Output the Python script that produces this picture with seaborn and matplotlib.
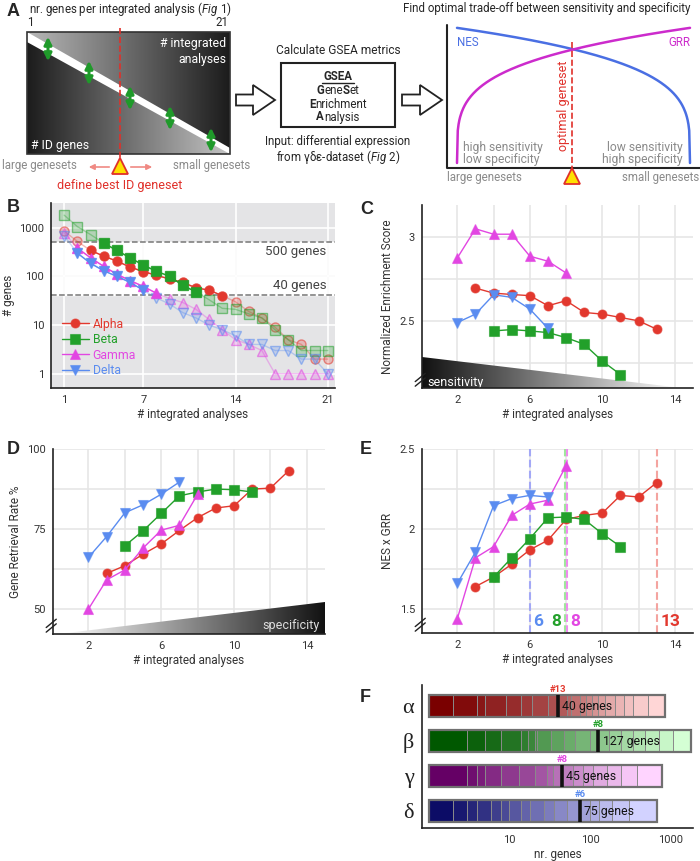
import numpy as np
import pandas as pd
import matplotlib
matplotlib.use('Agg')
import matplotlib.pyplot as plt
import seaborn as sns
from matplotlib.patches import Polygon, Rectangle, FancyArrow
from matplotlib.colors import LinearSegmentedColormap, to_rgba
from matplotlib.ticker import NullLocator

# ---------------- data ----------------
sets = ['Alpha', 'Beta', 'Gamma', 'Delta']
greek = ['α', 'β', 'γ', 'δ']

n_analyses = list(range(1, 22))
genes_alpha = [850, 520, 340, 260, 205, 155, 125, 105, 88, 75, 58, 52, 40, 30, 19, 14, 9, 5, 4, 2, 2]
genes_beta = [1800, 1050, 720, 480, 340, 240, 170, 127, 100, 65, 48, 33, 22, 21, 17, 14, 8, 5, 3, 3, 3]
genes_gamma = [780, 380, 240, 160, 110, 82, 62, 45, 35, 29, 21, 13, 8, 5, 4, 3, 1, 1, 1, 1, 1]
genes_delta = [680, 300, 185, 130, 100, 75, 52, 36, 27, 18, 14, 10, 8, 6, 4, 4, 3, 3, 2, 2, 1]

x_alpha = list(range(3, 14))
x_beta = list(range(4, 12))
x_gamma = list(range(2, 9))
x_delta = list(range(2, 8))

nes_alpha = [2.695, 2.665, 2.657, 2.65, 2.59, 2.62, 2.55, 2.54, 2.52, 2.50, 2.45]
nes_beta = [2.44, 2.448, 2.44, 2.43, 2.40, 2.36, 2.26, 2.18]
nes_gamma = [2.875, 3.048, 3.016, 3.016, 2.885, 2.855, 2.785]
nes_delta = [2.49, 2.54, 2.655, 2.64, 2.57, 2.455]

grr_alpha = [61.2, 63.6, 67.2, 70.4, 74.6, 78.6, 81.6, 82.3, 87.5, 87.8, 93.2]
grr_beta = [69.8, 74.5, 79.9, 85.4, 86.6, 87.5, 87.3, 86.6]
grr_gamma = [50.1, 59.2, 62.3, 69.1, 74.7, 76.2, 85.9]
grr_delta = [66.2, 72.7, 80.1, 82.6, 85.9, 89.7]

prod_alpha = [1.64, 1.70, 1.78, 1.87, 1.93, 2.06, 2.085, 2.10, 2.21, 2.20, 2.29]
prod_beta = [1.70, 1.82, 1.94, 2.07, 2.075, 2.06, 1.97, 1.89]
prod_gamma = [1.44, 1.82, 1.89, 2.085, 2.156, 2.18, 2.396]
prod_delta = [1.66, 1.856, 2.146, 2.19, 2.21, 2.20]

best_n = [13, 8, 8, 6]
best_genes = [40, 127, 45, 75]

genes = dict(zip(sets, [genes_alpha, genes_beta, genes_gamma, genes_delta]))
xs = dict(zip(sets, [x_alpha, x_beta, x_gamma, x_delta]))
nes = dict(zip(sets, [nes_alpha, nes_beta, nes_gamma, nes_delta]))
grr = dict(zip(sets, [grr_alpha, grr_beta, grr_gamma, grr_delta]))
prod = dict(zip(sets, [prod_alpha, prod_beta, prod_gamma, prod_delta]))

colors = {'Alpha': '#e2382e', 'Beta': '#22a02a', 'Gamma': '#e246e2', 'Delta': '#5a8cf0'}
markers = {'Alpha': 'o', 'Beta': 's', 'Gamma': '^', 'Delta': 'v'}
bar_cols = {'Alpha': ('#7a0000', '#ffd6d6'), 'Beta': ('#005800', '#d4ffd4'),
            'Gamma': ('#650065', '#ffd4ff'), 'Delta': ('#0c0c66', '#d2d2ff')}

# ---------------- style ----------------
sns.set_theme(style='white')
plt.rcParams['font.family'] = ['Roboto', 'DejaVu Sans']
plt.rcParams.update({'mathtext.fontset': 'custom', 'mathtext.rm': 'Roboto',
                     'mathtext.it': 'Roboto:italic', 'mathtext.bf': 'Roboto:bold',
                     'xtick.labelsize': 8, 'ytick.labelsize': 8,
                     'axes.labelsize': 8.5, 'xtick.color': '#333', 'ytick.color': '#333',
                     'axes.labelcolor': '#333'})

W, H = 700, 861
fig = plt.figure(figsize=(7, 8.61), dpi=100)
renderer = fig.canvas.get_renderer()
FS = 8.3  # schematic text size


def box(l, t, r, b):
    return [l / W, 1 - b / H, (r - l) / W, (b - t) / H]


def letter(x, y, s):
    fig.text(x / W, 1 - y / H, s, fontsize=13, fontweight='bold', family='Liberation Sans',
             va='center', ha='left')


def style_ax(ax):
    for s in ['top', 'right']:
        ax.spines[s].set_visible(False)
    for s in ['left', 'bottom']:
        ax.spines[s].set_color('#222')
        ax.spines[s].set_linewidth(1.2)
    ax.tick_params(axis='both', length=3, width=1, color='#222', pad=2)


def break_mark(ax):
    for d in (0.0, 0.025):
        ax.plot([-0.025, 0.012], [0.01 + d, 0.055 + d], transform=ax.transAxes,
                color='#222', lw=1, clip_on=False, zorder=5)


def mlabel(series):
    return dict(color=colors[series], marker=markers[series], markersize=6.5,
                markeredgecolor=to_rgba(colors[series], 0.6), markeredgewidth=0.8, lw=1)


def pieces(ax, xc, y, parts, fs):
    # draw text pieces (text, weight) side by side, centred on xc (axes units are pixels)
    arts = [ax.text(0, y, p, fontsize=fs, fontweight=w, ha='left', va='center') for p, w in parts]
    widths = [a.get_window_extent(renderer).width for a in arts]
    x = xc - sum(widths) / 2
    for a, w in zip(arts, widths):
        a.set_x(x)
        x += w


# ---------------- panel A (schematic) ----------------
axA = fig.add_axes([0, 1 - 195 / H, 1, 195 / H])
axA.axis('off')
axA.set_xlim(0, 700)
axA.set_ylim(195, 0)
grad = np.linspace(0, 1, 256).reshape(1, -1)
up = Polygon([(27, 32), (230, 32), (230, 148)], closed=True, transform=axA.transData)
lo = Polygon([(27, 42), (27, 154), (230, 154)], closed=True, transform=axA.transData)
im1 = axA.imshow(grad, extent=(27, 230, 154, 32), aspect='auto',
                 cmap=LinearSegmentedColormap.from_list('u', ['#b8b8b8', '#1c1c1c']))
im1.set_clip_path(up)
im2 = axA.imshow(grad, extent=(27, 230, 154, 32), aspect='auto',
                 cmap=LinearSegmentedColormap.from_list('l', ['#1c1c1c', '#c4c4c4']))
im2.set_clip_path(lo)
axA.set_xlim(0, 700)
axA.set_ylim(195, 0)
axA.add_patch(Rectangle((27, 32), 203, 122, fill=False, ec='#333', lw=1.2))
for gx, gy in [(48, 49), (89, 73), (130, 98), (170, 118), (211, 140)]:
    axA.annotate('', xy=(gx, gy - 15), xytext=(gx, gy + 15),
                 arrowprops=dict(arrowstyle='<|-|>', color='#1f9a2a', lw=2.2, mutation_scale=11))
axA.plot([120, 120], [28, 160], ls='--', color='#e0302a', lw=1.2)
axA.text(29, 8.5, r'nr. genes per integrated analysis ($\it{Fig\ 1}$)', fontsize=FS, va='center', ha='left')
axA.text(30, 23, '1', fontsize=FS, ha='center', va='center')
axA.text(222, 23, '21', fontsize=FS, ha='center', va='center')
axA.text(226, 43, '# integrated', color='white', fontsize=FS + 0.5, ha='right', va='center')
axA.text(226, 59, 'analyses', color='white', fontsize=FS + 0.5, ha='right', va='center')
axA.text(31, 146, '# ID genes', color='white', fontsize=FS + 0.5, ha='left', va='center')
axA.text(39, 165, 'large genesets', color='#8a8a8a', fontsize=FS, ha='center', va='center')
axA.text(212, 165, 'small genesets', color='#8a8a8a', fontsize=FS, ha='center', va='center')
axA.annotate('', xy=(86, 167), xytext=(112, 167),
             arrowprops=dict(arrowstyle='-|>', color='#f08a84', lw=1.2, mutation_scale=8))
axA.annotate('', xy=(155, 167), xytext=(128, 167),
             arrowprops=dict(arrowstyle='-|>', color='#f08a84', lw=1.2, mutation_scale=8))
axA.plot(120, 166, marker='^', ms=11, mfc='#ffe000', mec='#e0302a', mew=1.3)
axA.text(120, 186, 'define best ID geneset', color='#e0302a', fontsize=9, ha='center', va='center')

axA.add_patch(FancyArrow(236, 100, 39, 0, width=11, head_width=30, head_length=22,
                         length_includes_head=True, fc='white', ec='#222', lw=1.3))
axA.add_patch(FancyArrow(402, 100, 40, 0, width=11, head_width=30, head_length=22,
                         length_includes_head=True, fc='white', ec='#222', lw=1.3))
axA.text(338, 50, 'Calculate GSEA metrics', fontsize=FS + 0.3, ha='center', va='center')
axA.add_patch(Rectangle((281, 63), 114, 64, fill=False, ec='#222', lw=1.5))
axA.text(338, 76, 'GSEA', fontsize=FS, fontweight='bold', ha='center', va='center')
axA.plot([322, 354], [83, 83], color='#222', lw=1)
pieces(axA, 338, 91, [('G', 'bold'), ('ene', 'normal'), ('S', 'bold'), ('et', 'normal')], FS)
pieces(axA, 338, 104, [('E', 'bold'), ('nrichment', 'normal')], FS)
pieces(axA, 338, 117, [('A', 'bold'), ('nalysis', 'normal')], FS)
axA.text(338, 141, 'Input: differential expression', fontsize=FS, ha='center', va='center')
axA.text(338, 157, r'from γδε-dataset ($\it{Fig\ 2}$)', fontsize=FS, ha='center', va='center')

# trade-off sketch
axA.text(547, 8.5, 'Find optimal trade-off between sensitivity and specificity', fontsize=FS,
         ha='center', va='center')
axA.plot([447, 447, 700], [25, 168, 168], color='#222', lw=1.5)
t = np.linspace(0, 1, 300)
sx = 457 + 233 * t
axA.plot(sx, 168 - 143 * (0.035 + 0.945 * (1 - t) ** 0.25), color='#4a6fe3', lw=1.8)
axA.plot(sx, 168 - 143 * (0.035 + 0.945 * t ** 0.25), color='#cc2bcc', lw=1.8)
axA.plot([572, 572], [42, 168], ls='--', color='#e0302a', lw=1.2)
axA.text(563, 106, 'optimal geneset', rotation=90, color='#e0302a', fontsize=9,
         ha='center', va='center')
axA.text(457, 42, 'NES', color='#4a6fe3', fontsize=FS, ha='left', va='center')
axA.text(690, 42, 'GRR', color='#cc2bcc', fontsize=FS, ha='right', va='center')
axA.text(463, 147, 'high sensitivity', color='#8a8a8a', fontsize=FS + 0.4, ha='left', va='center')
axA.text(463, 159, 'low specificity', color='#8a8a8a', fontsize=FS + 0.4, ha='left', va='center')
axA.text(683, 147, 'low sensitivity', color='#8a8a8a', fontsize=FS + 0.4, ha='right', va='center')
axA.text(683, 159, 'high specificity', color='#8a8a8a', fontsize=FS + 0.4, ha='right', va='center')
axA.text(447, 178, 'large genesets', color='#8a8a8a', fontsize=FS, ha='left', va='center')
axA.text(699, 178, 'small genesets', color='#8a8a8a', fontsize=FS, ha='right', va='center')
axA.plot(572, 176, marker='^', ms=11, mfc='#ffe000', mec='#e0302a', mew=1.3, clip_on=False)
letter(7, 11, 'A')

# ---------------- panel B ----------------
axB = fig.add_axes(box(51, 203, 335, 388))
style_ax(axB)
axB.set_facecolor('#e4e4e6')
axB.set_yscale('log')
axB.axhspan(42, 500, color='white', zorder=0.2)
axB.grid(True, color='white', lw=1.2, which='major')
axB.set_axisbelow(True)
axB.vlines([1, 7, 14, 21], 42, 500, color='#e6e6e6', lw=1.2, zorder=0.3)
axB.hlines([100], 0, 21.55, color='#e6e6e6', lw=1.2, zorder=0.3)
axB.axhline(500, ls='--', color='#777', lw=1.1, zorder=1)
axB.axhline(42, ls='--', color='#777', lw=1.1, zorder=1)
for s in sets:
    v = np.array(genes[s], dtype=float)
    c = colors[s]
    axB.plot(n_analyses, v, color=to_rgba(c, 0.35), lw=1, marker=markers[s], ms=6.5,
             mfc=to_rgba(c, 0.25), mec=to_rgba(c, 0.55), mew=1, zorder=2)
    keep = (v >= 40) & (v <= 500)
    d = pd.DataFrame({'n': np.array(n_analyses)[keep], 'genes': v[keep]})
    sns.lineplot(data=d, x='n', y='genes', ax=axB, label=s, zorder=3, **mlabel(s))
leg = axB.legend(loc='lower left', bbox_to_anchor=(0.0, 0.0), frameon=False, fontsize=8.8,
                 handlelength=2.2, labelspacing=0.2, borderaxespad=0.5, handletextpad=0.3)
for txt, s in zip(leg.get_texts(), sets):
    txt.set_color(colors[s])
axB.text(20.9, 320, '500 genes', ha='right', va='center', fontsize=9.5, color='#444')
axB.text(20.9, 66, '40 genes', ha='right', va='center', fontsize=9.5, color='#444')
axB.set_xlim(0, 21.55)
axB.set_ylim(0.51, 3200)
axB.set_xticks([1, 7, 14, 21])
axB.set_yticks([1, 10, 100, 1000])
axB.set_yticklabels(['1', '10', '100', '1000'])
axB.yaxis.set_minor_locator(NullLocator())
axB.set_xlabel('# integrated analyses', labelpad=2)
axB.set_ylabel('# genes', labelpad=3)
letter(7, 208, 'B')


# ---------------- panels C, D, E ----------------
def line_panel(rect, values, ylim, yticks, yminor):
    ax = fig.add_axes(rect)
    style_ax(ax)
    for s in sets:
        d = pd.DataFrame({'n': xs[s], 'v': values[s]})
        sns.lineplot(data=d, x='n', y='v', ax=ax, zorder=3, **mlabel(s))
    ax.set_xticks([2, 6, 10, 14])
    ax.set_xticks(range(2, 15, 2), minor=True)
    ax.set_yticks(yticks)
    ax.set_yticks(yminor, minor=True)
    ax.grid(True, which='both', color='#e6e6e6', lw=1.2)
    ax.tick_params(which='minor', length=0)
    ax.set_axisbelow(True)
    ax.set_xlim(0.05, 15)
    ax.set_ylim(*ylim)
    ax.set_xlabel('# integrated analyses', labelpad=2)
    break_mark(ax)
    return ax


axC = line_panel(box(422, 205, 693, 388), nes, (2.10, 3.19), [2.5, 3.0], [2.25, 2.75])
axC.set_yticklabels(['2.5', '3'])
axC.set_ylabel('Normalized Enrichment Score', labelpad=4)
triC = Polygon([(0.05, 2.285), (0.05, 2.10), (14.4, 2.10)], closed=True, transform=axC.transData)
imC = axC.imshow(grad, extent=(0.05, 14.4, 2.10, 2.285), aspect='auto', zorder=1,
                 cmap=LinearSegmentedColormap.from_list('c', ['#111111', '#ffffff']))
imC.set_clip_path(triC)
axC.text(0.35, 2.135, 'sensitivity', color='white', fontsize=9, ha='left', va='center', zorder=2)
axC.set_xlim(0.05, 15)
axC.set_ylim(2.10, 3.19)
letter(360, 210, 'C')

axD = line_panel(box(53, 449, 325, 634), grr, (42.3, 100), [50, 75, 100], [62.5, 87.5])
axD.set_ylabel('Gene Retrieval Rate %', labelpad=4)
triD = Polygon([(0.3, 42.3), (15, 42.3), (15, 52.3)], closed=True, transform=axD.transData)
imD = axD.imshow(grad, extent=(0.3, 15, 42.3, 52.3), aspect='auto', zorder=1,
                 cmap=LinearSegmentedColormap.from_list('d', ['#ffffff', '#111111']))
imD.set_clip_path(triD)
axD.text(14.7, 44.8, 'specificity', color='#dddddd', fontsize=9, ha='right', va='center', zorder=2)
axD.set_xlim(0.05, 15)
axD.set_ylim(42.3, 100)
letter(7, 449, 'D')

axE = line_panel(box(422, 449, 693, 633), prod, (1.35, 2.5), [1.5, 2.0, 2.5], [1.75, 2.25])
axE.set_yticklabels(['1.5', '2', '2.5'])
axE.set_ylabel('NES x GRR', labelpad=4)
for bx, bc in [(6, '#a3a8f6'), (7.96, '#9ee89a'), (8.04, '#ef8cef'), (13, '#f4a4a0')]:
    axE.axvline(bx, ls='--', color=bc, lw=1.5, zorder=2)
axE.text(6.2, 1.42, '6', color=colors['Delta'], fontsize=12.5, fontweight='bold', ha='left', va='center')
axE.text(7.75, 1.42, '8', color=colors['Beta'], fontsize=12.5, fontweight='bold', ha='right', va='center')
axE.text(8.25, 1.42, '8', color=colors['Gamma'], fontsize=12.5, fontweight='bold', ha='left', va='center')
axE.text(13.2, 1.42, '13', color=colors['Alpha'], fontsize=12.5, fontweight='bold', ha='left', va='center')
letter(360, 449, 'E')

# ---------------- panel F ----------------
axF = fig.add_axes(box(422, 685, 693, 828))
style_ax(axF)
axF.set_xscale('log')
for i, s in enumerate(sets):
    edges = [1] + sorted(set(genes[s]) - {1})
    cmap = LinearSegmentedColormap.from_list(s, bar_cols[s])
    nseg = len(edges) - 1
    for k in range(nseg):
        axF.barh(i, edges[k + 1] - edges[k], left=edges[k], height=0.62,
                 color=cmap(k / max(nseg - 1, 1)), edgecolor='#8a8a8a', lw=0.7)
    axF.barh(i, edges[-1] - 1, left=1, height=0.62, fill=False, edgecolor='#707070', lw=1.6)
    axF.vlines(best_genes[i], i - 0.31, i + 0.31, color='#111', lw=2.6, zorder=4)
    axF.text(best_genes[i], i - 0.34, f'#{best_n[i]}', color=colors[s], fontsize=6.8,
             fontweight='bold', ha='center', va='bottom')
    axF.text(best_genes[i] * 1.13, i + 0.02, f'{best_genes[i]} genes', color='#111',
             fontsize=8.8, ha='left', va='center', zorder=5)
axF.set_yticks(range(4))
axF.set_yticklabels(greek, family=['Liberation Serif', 'DejaVu Serif'], fontsize=16, color='#222')
axF.tick_params(axis='y', length=0, pad=6)
axF.set_xticks([10, 100, 1000])
axF.set_xticklabels(['10', '100', '1000'])
axF.xaxis.set_minor_locator(NullLocator())
axF.set_xlim(0.83, 1880)
axF.set_ylim(3.49, -0.59)
axF.set_xlabel('nr. genes', labelpad=2)
letter(360, 697, 'F')

fig.savefig('out.png', dpi=100)
